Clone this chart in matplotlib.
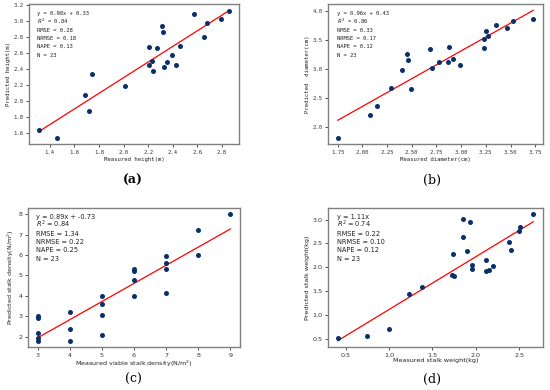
import matplotlib
matplotlib.use("Agg")
import matplotlib.pyplot as plt
from matplotlib.ticker import MultipleLocator

# ---- data ----
height_measured = [1.31, 1.46, 1.69, 1.72, 1.74, 2.01, 2.21, 2.21, 2.23, 2.24, 2.27,
                   2.31, 2.32, 2.33, 2.35, 2.39, 2.43, 2.46, 2.57, 2.65, 2.68, 2.79, 2.86]
height_predicted = [1.64, 1.54, 2.07, 1.87, 2.34, 2.19, 2.67, 2.45, 2.50, 2.37, 2.66,
                    2.94, 2.86, 2.42, 2.49, 2.57, 2.45, 2.69, 3.09, 2.80, 2.98, 3.03, 3.13]
height_fit = (0.98, 0.33)
height_stats = ["y = 0.98x + 0.33", "$R^2$ = 0.84", "RMSE = 0.28", "NRMSE = 0.18", "NAPE = 0.13", "N = 23"]

diam_measured = [1.75, 2.08, 2.15, 2.29, 2.40, 2.45, 2.46, 2.49, 2.68, 2.70, 2.78, 2.87,
                 2.88, 2.92, 2.99, 3.23, 3.23, 3.25, 3.27, 3.35, 3.46, 3.53, 3.73]
diam_predicted = [1.81, 2.20, 2.36, 2.67, 2.98, 3.25, 3.15, 2.65, 3.35, 3.02, 3.11, 3.11,
                  3.38, 3.17, 3.07, 3.51, 3.36, 3.66, 3.57, 3.76, 3.71, 3.83, 3.87]
diam_fit = (0.96, 0.43)
diam_stats = ["y = 0.96x + 0.43", "$R^2$ = 0.86", "RMSE = 0.33", "NRMSE = 0.17", "NAPE = 0.12", "N = 23"]

dens_measured = [3, 3, 3, 3, 3, 4, 4, 4, 5, 5, 5, 5, 6, 6, 6, 6, 7, 7, 7, 7, 8, 8, 9]
dens_predicted = [3.00, 2.90, 2.18, 1.93, 1.80, 3.22, 2.36, 1.80, 4.01, 3.62, 3.07, 2.08,
                  5.33, 5.20, 4.77, 4.00, 5.96, 5.60, 5.30, 4.13, 7.23, 6.00, 8.00]
dens_fit = (0.89, -0.73)
dens_stats = ["y = 0.89x + -0.73", "$R^2$ = 0.84", "RMSE = 1.34", "NRMSE = 0.22", "NAPE = 0.25", "N = 23"]

weight_measured = [0.41, 0.75, 1.00, 1.23, 1.38, 1.72, 1.74, 1.75, 1.85, 1.85, 1.90,
                   1.93, 1.95, 1.95, 2.12, 2.12, 2.15, 2.20, 2.38, 2.40, 2.50, 2.51, 2.66]
weight_predicted = [0.51, 0.55, 0.70, 1.43, 1.58, 1.84, 2.27, 1.81, 2.64, 3.02, 2.34,
                    2.95, 2.05, 1.96, 2.15, 1.91, 1.95, 2.03, 2.52, 2.35, 2.76, 2.84, 3.11]
weight_fit = (1.11, 0.0)
weight_stats = ["y = 1.11x", "$R^2$ = 0.74", "RMSE = 0.22", "NRMSE = 0.10", "NAPE = 0.12", "N = 23"]

W, H = 550, 390
fig = plt.figure(figsize=(W / 100, H / 100), dpi=100)
fig.patch.set_facecolor("white")

POINT = "#0a2f6b"
SPINE = "#808080"


def make_ax(l, t, r, b):
    return fig.add_axes([l / W, 1 - b / H, (r - l) / W, (b - t) / H])


def panel(ax, xs, ys, fit, stats, xlabel, ylabel, xstep, ystep, family, fs, tfs,
          letter, lx, ly, bold, xpad):
    ax.scatter(xs, ys, s=13, color=POINT, zorder=3, linewidths=0)
    x0, x1 = min(xs), max(xs)
    ax.plot([x0, x1], [fit[0] * x0 + fit[1], fit[0] * x1 + fit[1]], color="red", lw=0.9, zorder=2)
    ax.xaxis.set_major_locator(MultipleLocator(xstep))
    ax.yaxis.set_major_locator(MultipleLocator(ystep))
    for s in ax.spines.values():
        s.set_color(SPINE)
        s.set_linewidth(1.0)
    ax.tick_params(length=2.5, width=0.6, pad=1.5, labelsize=fs, colors="#333333")
    for lab in ax.get_xticklabels() + ax.get_yticklabels():
        lab.set_family(family)
    ax.set_xlabel(xlabel, fontsize=fs, family=family, labelpad=xpad, color="#222222")
    ax.set_ylabel(ylabel, fontsize=fs, family=family, labelpad=2, color="#222222")
    bbox = ax.get_position()
    h_px = bbox.height * H
    y0 = 1 - 11.0 / h_px
    for i, s in enumerate(stats):
        ax.annotate(s, xy=(0.04, y0), xycoords="axes fraction",
                    xytext=(0, -i * 6.0), textcoords="offset points",
                    va="baseline", ha="left", fontsize=tfs, family=family, color="#222222")
    fig.text(lx / W, 1 - ly / H, letter, ha="center", va="center", fontsize=9,
             family="DejaVu Serif", fontweight="bold" if bold else "normal")


mono = ["DejaVu Sans Mono"]
sans = ["DejaVu Sans"]

ax_a = make_ax(29, 4, 239, 144)
panel(ax_a, height_measured, height_predicted, height_fit, height_stats,
      "Measured height(m)", "Predicted height(m)", 0.2, 0.2, mono, 4.1, 4.0,
      "(a)", 133, 180, True, 1.5)

ax_b = make_ax(328, 4, 543, 144)
panel(ax_b, diam_measured, diam_predicted, diam_fit, diam_stats,
      "Measured diameter(cm)", "Predicted  diameter(cm)", 0.25, 0.5, mono, 4.1, 4.0,
      "(b)", 432, 180, False, 1.5)

ax_c = make_ax(28, 208, 240, 347)
panel(ax_c, dens_measured, dens_predicted, dens_fit, dens_stats,
      "Measured viable stalk density(N/m$^2$)", "Predicted stalk density(N/m$^2$)", 1, 1, sans, 4.6, 4.8,
      "(c)", 133, 379, False, 0.5)

ax_d = make_ax(328, 208, 543, 347)
panel(ax_d, weight_measured, weight_predicted, weight_fit, weight_stats,
      "Measured stalk weight(kg)", "Predicted stalk weight(kg)", 0.5, 0.5, sans, 4.6, 4.8,
      "(d)", 432, 379, False, 0.5)

fig.savefig("out.png", dpi=100, facecolor="white")
